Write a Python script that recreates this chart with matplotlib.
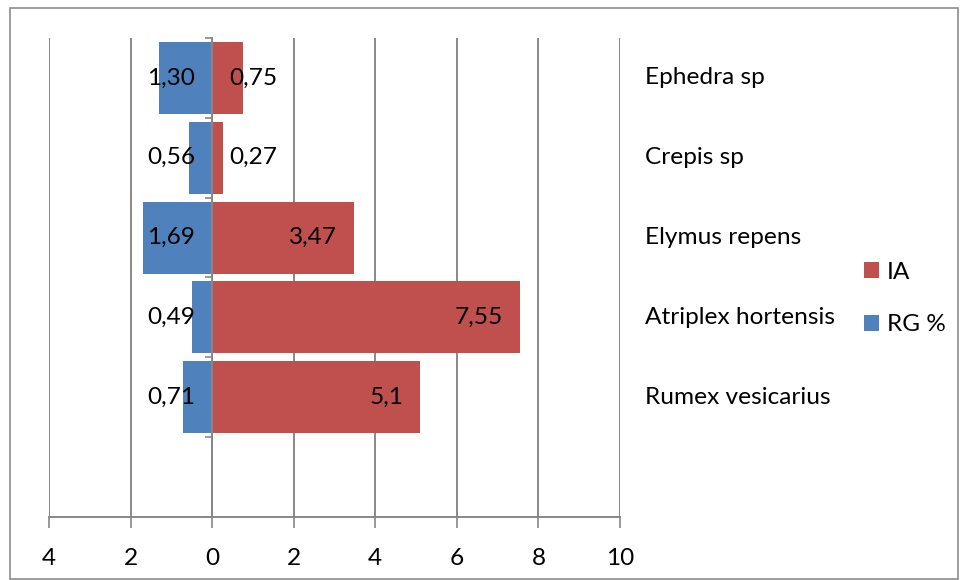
import matplotlib
matplotlib.use("Agg")
import matplotlib.pyplot as plt
from matplotlib.patches import Rectangle
from matplotlib.ticker import FixedLocator, FuncFormatter
import matplotlib.transforms as mtransforms

plt.rcParams["font.family"] = ["Lato", "DejaVu Sans"]

species = ["Ephedra sp", "Crepis sp", "Elymus repens", "Atriplex hortensis", "Rumex vesicarius"]
rg_labels = ["1,30", "0,56", "1,69", "0,49", "0,71"]
ia_labels = ["0,75", "0,27", "3,47", "7,55", "5,1"]

rg = [float(s.replace(",", ".")) for s in rg_labels]
ia = [float(s.replace(",", ".")) for s in ia_labels]

RED = "#C0504D"
BLUE = "#4F81BD"
GRID = "#888888"
FS = 17.6

fig = plt.figure(figsize=(9.6, 5.8), dpi=100)
ax = fig.add_axes([49 / 960, 1 - 517 / 580, 571 / 960, 479 / 580])

# outer frame around the whole chart
fig.patches.append(Rectangle((10 / 960, 1 / 580), 948 / 960, 571 / 580,
                             transform=fig.transFigure, fill=False,
                             edgecolor="#8c8c8c", linewidth=1.2))

y = list(range(len(species)))
ax.barh(y, [-v for v in rg], height=0.9, color=BLUE, label="RG %", zorder=3)
ax.barh(y, ia, height=0.9, color=RED, label="IA", zorder=3)

ax.set_xlim(-4, 10)
ax.set_ylim(5.5, -0.5)
ax.set_xticks(range(-4, 11, 2))
ax.xaxis.set_major_formatter(FuncFormatter(lambda v, p: f"{abs(v):g}"))
ax.tick_params(axis="x", length=8, width=1.2, color=GRID, labelsize=FS, pad=14)
ax.grid(axis="x", color=GRID, linewidth=1.4, zorder=0)
ax.set_axisbelow(True)

for s in ["top", "right"]:
    ax.spines[s].set_visible(False)
ax.spines["bottom"].set_color(GRID)
ax.spines["bottom"].set_linewidth(1.4)
ax.spines["left"].set_position(("data", 0))
ax.spines["left"].set_color(GRID)
ax.spines["left"].set_linewidth(1.4)
ax.spines["left"].set_zorder(4)
ax.yaxis.set_major_locator(FixedLocator([i - 0.5 for i in range(7)]))
ax.yaxis.set_major_formatter(FuncFormatter(lambda v, p: ""))
ax.tick_params(axis="y", length=5, width=1.2, color=GRID)

# category names sit to the right of the plot
lab_tr = mtransforms.blended_transform_factory(ax.transAxes, ax.transData)
for i, name in enumerate(species):
    ax.text(1.044, i, name, transform=lab_tr, ha="left", va="center",
            fontsize=FS, clip_on=False)

# value labels: inside the bar end, pushed away from the axis when the bar is short
fig.canvas.draw()
renderer = fig.canvas.get_renderer()
pad = 17 / 40.8
for i in y:
    t = ax.text(ia[i] - pad, i, ia_labels[i], ha="right", va="center", fontsize=FS, zorder=5)
    bb = t.get_window_extent(renderer).transformed(ax.transData.inverted())
    if bb.x0 < pad:
        t.set_x(pad)
        t.set_ha("left")
    ax.text(-pad, i, rg_labels[i], ha="right", va="center", fontsize=FS, zorder=5)

handles, labels = ax.get_legend_handles_labels()
ax.legend(handles[::-1], labels[::-1], loc="center left", bbox_to_anchor=(1.41, 0.456),
          frameon=False, fontsize=FS, handlelength=0.6, handleheight=0.6,
          handletextpad=0.35, labelspacing=1.3, borderaxespad=0)

fig.savefig("out.png", dpi=100)
